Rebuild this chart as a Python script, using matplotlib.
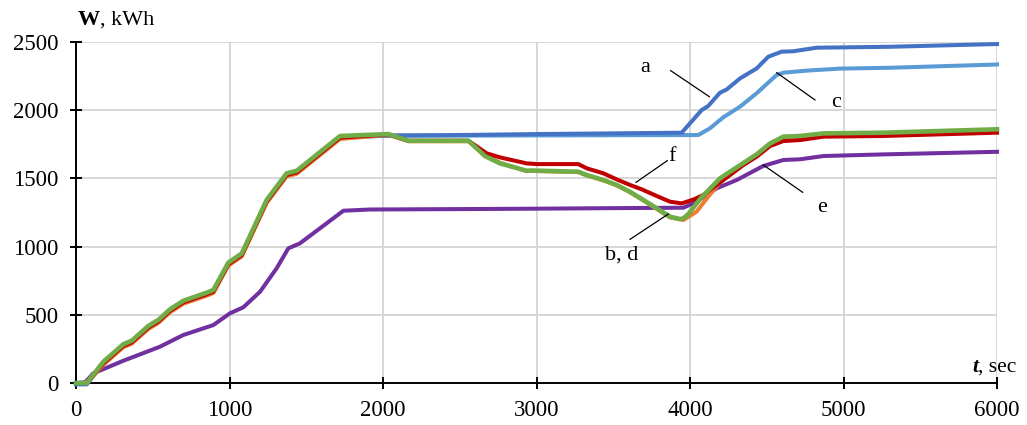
import matplotlib.pyplot as plt

plt.rcParams['font.family'] = ['Liberation Serif', 'DejaVu Serif']

# early part shared by a, b, c, d, f (t in sec, W in kWh)
t_early = [0, 70, 178, 308, 363, 471, 536, 612, 699, 851, 895, 992, 1080, 1242, 1372, 1438, 1720, 2035]
w_early = [0, 0, 156, 284, 310, 418, 462, 540, 603, 662, 682, 882, 950, 1342, 1537, 1556, 1811, 1825]

t_a = [2500, 3000, 3500, 3946, 4076, 4119, 4195, 4239, 4326, 4434, 4510, 4597, 4673, 4825, 5303, 6000]
w_a = [1818, 1825, 1830, 1835, 2001, 2031, 2128, 2152, 2233, 2306, 2392, 2429, 2432, 2458, 2465, 2485]

t_c = [3000, 4054, 4130, 4217, 4326, 4434, 4564, 4608, 4760, 4977, 5303, 6000]
w_c = [1815, 1818, 1867, 1948, 2026, 2124, 2258, 2275, 2290, 2305, 2311, 2335]

t_d = [2166, 2557, 2664, 2762, 2936, 2958, 3272, 3327, 3436, 3522, 3609, 3696, 3783, 3870, 3935, 3957,
       3990, 4070, 4195, 4304, 4434, 4521, 4608, 4717, 4869, 5260, 6000]
w_d = [1776, 1776, 1664, 1610, 1556, 1558, 1549, 1525, 1488, 1452, 1402, 1342, 1281, 1219, 1202, 1207,
       1240, 1355, 1500, 1581, 1676, 1756, 1806, 1811, 1830, 1835, 1860]

t_b = [2166, 2557, 2664, 2762, 2936, 2958, 3272, 3327, 3436, 3522, 3609, 3696, 3783, 3870, 3957,
       4043, 4100, 4195, 4304, 4434, 4521, 4608, 4717, 4869, 5260, 6000]
w_b = [1772, 1772, 1672, 1615, 1553, 1555, 1546, 1522, 1485, 1449, 1398, 1338, 1276, 1214, 1195,
       1256, 1340, 1470, 1565, 1668, 1748, 1798, 1805, 1824, 1830, 1854]

t_f = [2166, 2557, 2675, 2762, 2936, 3000, 3272, 3327, 3436, 3522, 3609, 3685, 3783, 3870, 3946,
       4022, 4087, 4217, 4347, 4434, 4521, 4608, 4717, 4869, 5260, 6000]
w_f = [1776, 1776, 1684, 1654, 1610, 1605, 1605, 1574, 1537, 1493, 1452, 1420, 1371, 1329, 1317,
       1345, 1378, 1488, 1598, 1659, 1737, 1774, 1781, 1806, 1811, 1835]

t_e = [0, 60, 113, 308, 547, 699, 895, 1003, 1090, 1199, 1307, 1383, 1459, 1742, 1915, 2500, 3000,
       3500, 3957, 4043, 4173, 4304, 4477, 4608, 4717, 4869, 5260, 6000]
w_e = [0, 5, 71, 163, 266, 352, 425, 511, 555, 669, 841, 987, 1024, 1263, 1272, 1275, 1278,
       1282, 1285, 1329, 1427, 1488, 1591, 1635, 1640, 1664, 1676, 1695]

x_ticks = [0, 1000, 2000, 3000, 4000, 5000, 6000]
y_ticks = [0, 500, 1000, 1500, 2000, 2500]

# curves as full arrays
ta = t_early + t_a
wa = [w - 8 for w in w_early[:-1]] + [1815] + w_a
tc = t_early + t_c
wc = [w - 10 for w in w_early[:-1]] + [1812] + w_c
td = t_early + t_d
wd = w_early + w_d
tb = t_early + t_b
wb = [0, 0] + [w - 22 for w in w_early[2:-1]] + [1820] + w_b
tf = t_early + t_f
wf = [0, 0] + [w - 12 for w in w_early[2:-1]] + [1822] + w_f

fig = plt.figure(figsize=(10.27, 4.25), dpi=100)
ax = fig.add_axes([0.074, 0.0988, 0.8968, 0.8024])

curves = [(t_e, w_e, '#7030A0', 2.9), (tc, wc, '#5B9BD5', 2.9), (ta, wa, '#4472C4', 2.9),
          (tb, wb, '#ED7D31', 2.9), (tf, wf, '#C00000', 2.9), (td, wd, '#70AD47', 3.3)]
for k, (tt_, ww_, col, lw) in enumerate(curves):
    ax.plot(tt_, ww_, color=col, lw=lw, zorder=3 + k, clip_on=False)

ax.set_xlim(0, 6000)
ax.set_ylim(0, 2500)
ax.set_xticks(x_ticks)
ax.set_yticks(y_ticks)
ax.grid(True, color='#D4D4D4', lw=1.3, zorder=0)
ax.set_axisbelow(True)
for s in ['top', 'right']:
    ax.spines[s].set_visible(False)
for s in ['left', 'bottom']:
    ax.spines[s].set_linewidth(1.4)
    ax.spines[s].set_zorder(2.5)
ax.tick_params(axis='both', direction='inout', length=9, width=1.4, labelsize=16.5)
ax.tick_params(axis='x', pad=8)
ax.tick_params(axis='y', pad=8)

# labels of curves
fs = 16
ax.text(3707, 2280, 'a', fontsize=fs, ha='center', va='baseline')
ax.plot([3874, 4126], [2290, 2099], color='black', lw=0.9, zorder=9)
ax.text(4950, 2021, 'c', fontsize=fs, ha='center', va='baseline')
ax.plot([4565, 4814], [2275, 2075], color='black', lw=0.9, zorder=9)
ax.text(3880, 1630, 'f', fontsize=fs, ha='center', va='baseline')
ax.plot([3852, 3648], [1630, 1471], color='black', lw=0.9, zorder=9)
ax.text(3555, 902, 'b, d', fontsize=fs, ha='center', va='baseline')
ax.plot([3609, 3859], [1053, 1239], color='black', lw=0.9, zorder=9)
ax.text(4858, 1256, 'e', fontsize=fs, ha='center', va='baseline')
ax.plot([4478, 4734], [1598, 1398], color='black', lw=0.9, zorder=9)

# axis titles
tw = fig.text(78 / 1027, 1 - 25 / 425, 'W', fontsize=16, fontweight='bold', va='baseline')
ax.annotate(', kWh', xy=(1, 0), xycoords=tw, fontsize=16, va='bottom')
tt = fig.text(972 / 1027, 1 - 372 / 425, 't', fontsize=15.5, fontweight='bold', style='italic', va='baseline')
ax.annotate(', sec', xy=(1, 0), xycoords=tt, fontsize=15.5, va='bottom')

fig.savefig('out.png', dpi=100)
